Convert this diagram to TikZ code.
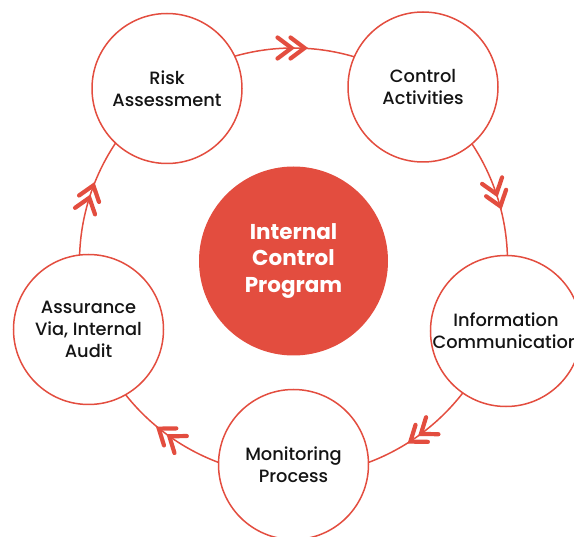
\documentclass[tikz,border=0pt]{standalone}
\usepackage{fontspec}
\setmainfont{Poppins}[UprightFont={* Medium}, BoldFont={* Bold}]
\usetikzlibrary{decorations.markings,calc}
\definecolor{icred}{RGB}{227,77,63}
\definecolor{ictext}{RGB}{20,20,20}
\begin{document}
\begin{tikzpicture}[x=1pt,y=1pt,
  chev/.style={draw=icred, line width=4.2pt, line cap=round, line join=miter},
  conn/.style={draw=icred, line width=1.5pt, postaction={decorate},
    decoration={markings, mark=at position 0.5 with {
      \draw[chev] (-16,10.5)--(-2,0)--(-16,-10.5);
      \draw[chev] (-3,10.5)--(11,0)--(-3,-10.5);}}},
  sat/.style={circle, draw=icred, line width=1.5pt, fill=white, minimum size=150pt,
    inner sep=0pt, align=center, text=ictext, font=\fontsize{17.8}{22}\selectfont},
  hub/.style={circle, fill=icred, minimum size=189pt, inner sep=0pt, align=center,
    text=white, font=\fontsize{21.5}{26.5}\selectfont\bfseries}]
\useasboundingbox (0,0) rectangle (574,-537);
\coordinate (O) at (293.5,-262);
\coordinate (r1) at ($(O)+(126:214)$);
\coordinate (r2) at ($(O)+(54:214)$);
\coordinate (r3) at ($(O)+(-18:214)$);
\coordinate (r4) at ($(O)+(-90:214)$);
\coordinate (r5) at ($(O)+(-162:214)$);
\draw[conn] (r1) arc[start angle=126, end angle=54, radius=214];
\draw[conn] (r2) arc[start angle=54, end angle=-18, radius=214];
\draw[conn] (r3) arc[start angle=-18, end angle=-90, radius=214];
\draw[conn] (r4) arc[start angle=-90, end angle=-162, radius=214];
\draw[conn] (r5) arc[start angle=-162, end angle=-234, radius=214];
\node[hub] (hub) at (293.5,-261) {Internal\\Control\\Program};
\node[sat] (risk) at (167,-88.5) {Risk\\Assessment};
\node[sat] (ctrl) at (423,-87) {Control\\Activities};
\node[sat] (info) at (506,-331) {Information\\Communication};
\node[sat] (mon) at (293.5,-464.5) {Monitoring\\Process};
\node[sat] (assu) at (88.5,-329.5) {Assurance\\Via, Internal\\Audit};
\end{tikzpicture}
\end{document}
